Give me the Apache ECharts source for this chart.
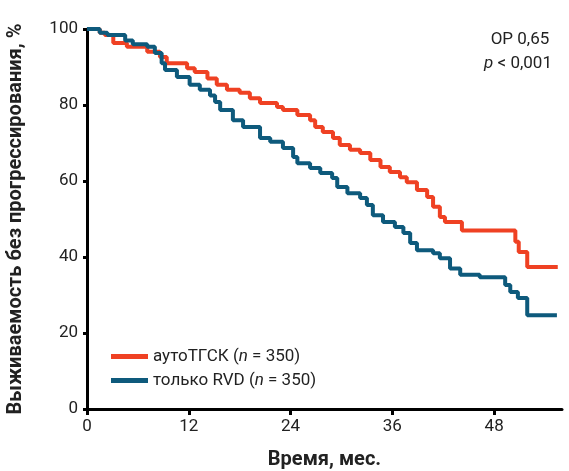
<!DOCTYPE html>
<html><head><meta charset="utf-8">
<script src="https://cdn.jsdelivr.net/npm/echarts@6/dist/echarts.min.js"></script>
<style>html,body{margin:0;padding:0;background:#fff}#c{width:569px;height:471px}</style>
</head><body><div id="c"></div>
<script>
// Kaplan–Meier curves: [month, survival %] at start of each plateau
const autoTGSK = [[0,100],[1.5,99],[2.1,98.4],[3.1,96.3],[4.7,95.3],[7.1,94],[8.6,92.6],[9.4,91],[11.8,89.7],[12.7,88.7],[14.2,87],[15.3,85.3],[16.5,84],[18.0,83.2],[19.2,81.8],[20.4,80.5],[22.4,79.5],[23.1,78.7],[24.8,77.4],[26.3,76],[26.9,74.2],[27.8,72.9],[29.0,71.3],[29.8,69.5],[31.0,68.2],[32.2,67.4],[33.4,65.5],[34.6,63.7],[35.7,62.4],[36.9,61],[37.7,59.7],[38.9,57.6],[40.1,55.8],[40.8,53.2],[41.6,50.5],[42.2,49.2],[44.2,47],[50.5,44],[50.9,41.3],[51.9,37.4],[55.5,37.4]];
const onlyRVD = [[0,100],[1.5,99],[2.4,98.4],[4.5,97],[5.4,96],[7.1,95.3],[8.0,93.7],[8.8,91],[9.2,89.2],[10.6,87.4],[12.1,85.3],[13.3,84],[14.5,82.5],[15.1,80.8],[15.7,78.7],[17.2,76],[18.4,74.2],[20.4,71.3],[21.6,70.3],[23.1,68.7],[24.3,66.3],[24.8,64.7],[26.3,63.4],[27.5,62.1],[28.9,60.8],[29.5,58.4],[30.7,56.8],[32.2,55.5],[33.0,53.7],[33.7,51],[34.9,49.2],[36.3,47.9],[37.3,46.3],[38.1,43.7],[38.9,41.8],[40.8,41],[41.6,39.7],[42.8,37],[44.0,35.3],[46.3,34.7],[49.3,32.6],[49.9,30.8],[50.8,29.2],[51.9,24.7],[55.4,24.7]];
const xTicks = [0,12,24,36,48];
const yTicks = [0,20,40,60,80,100];
const seriesNames = ['аутоТГСК', 'только RVD'];
const nLabel = '350';

const FONT = 'Roboto, sans-serif';
const chart = echarts.init(document.getElementById('c'), null, {renderer:'canvas'});
chart.setOption({
  animation:false,
  backgroundColor:'#fff',
  grid:{left:87,right:7,top:29,bottom:62,containLabel:false,outerBoundsMode:'none'},
  xAxis:{type:'value',min:0,max:56,interval:12,
    name:'Время, мес.',nameLocation:'middle',nameGap:41,
    nameTextStyle:{fontFamily:FONT,fontWeight:'bold',fontSize:20,color:'#222'},
    axisLine:{lineStyle:{color:'#000',width:3}},
    axisTick:{show:true,length:6,lineStyle:{color:'#000',width:3},customValues:xTicks},
    axisLabel:{fontFamily:FONT,fontSize:17,color:'#222',margin:9,customValues:xTicks},
    splitLine:{show:false}},
  yAxis:{type:'value',min:0,max:100,interval:20,
    name:'Выживаемость без прогрессирования, %',nameLocation:'middle',nameGap:61,
    nameTextStyle:{fontFamily:FONT,fontWeight:'bold',fontSize:20,color:'#222'},
    axisLine:{show:true,lineStyle:{color:'#000',width:3}},
    axisTick:{show:true,length:4,lineStyle:{color:'#000',width:3},customValues:yTicks},
    axisLabel:{fontFamily:FONT,fontSize:17,color:'#222',margin:9,customValues:yTicks},
    splitLine:{show:false}},
  legend:{orient:'vertical',left:106,top:343,itemWidth:37,itemHeight:5,itemGap:7,icon:'rect',
    data:seriesNames,
    formatter:function(n){return n+' ({i|n} = '+nLabel+')';},
    textStyle:{fontFamily:FONT,fontSize:17,color:'#222',rich:{i:{fontStyle:'italic',fontFamily:FONT,fontSize:17,color:'#222'}}}},
  graphic:[
    {type:'text',x:520,y:31,style:{text:'ОР 0,65',font:'17px '+FONT,fill:'#222',align:'center'}},
    {type:'text',x:518,y:55,style:{text:'{i|p} < 0,001',font:'17px '+FONT,fill:'#222',align:'center',rich:{i:{fontStyle:'italic',fontFamily:FONT,fontSize:17,fill:'#222'}}}}
  ],
  series:[
    {name:seriesNames[0],type:'line',step:'end',data:autoTGSK,showSymbol:false,symbol:'none',color:'#EF4123',lineStyle:{width:4,color:'#EF4123'},z:3},
    {name:seriesNames[1],type:'line',step:'end',data:onlyRVD,showSymbol:false,symbol:'none',color:'#0E5A7C',lineStyle:{width:4,color:'#0E5A7C'},z:4}
  ]
});
</script></body></html>
